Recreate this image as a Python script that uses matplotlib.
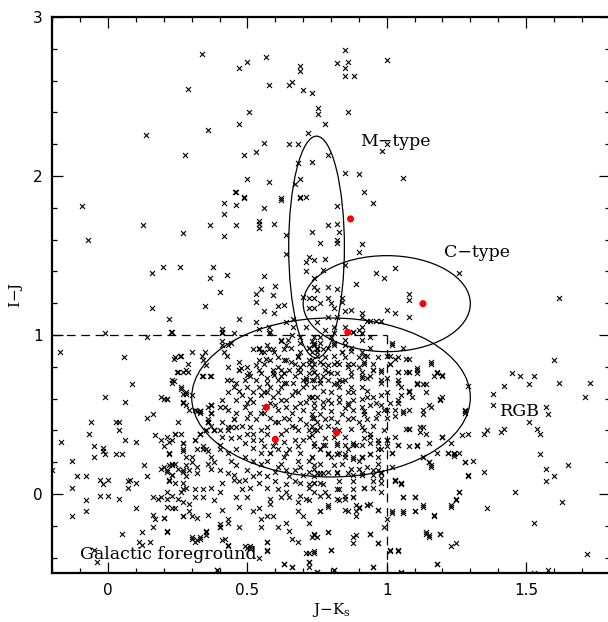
import matplotlib
matplotlib.use("Agg")
import matplotlib.pyplot as plt
from matplotlib.patches import Ellipse
from matplotlib.ticker import MultipleLocator, FixedLocator, FuncFormatter

# (J-Ks, I-J) colours of the field stars, grouped by region of the diagram
upper_branch = [
    (0.338, 2.77), (0.468, 2.68), (0.50, 2.72), (0.568, 2.75), (0.69, 2.69), (0.69, 2.66),
    (0.288, 2.55), (0.578, 2.57), (0.65, 2.57), (0.66, 2.59), (0.70, 2.54), (0.507, 2.40),
    (0.468, 2.33), (0.36, 2.29), (0.137, 2.26), (0.716, 2.27), (0.558, 2.21), (0.65, 2.20),
    (0.68, 2.20), (0.529, 2.15), (0.277, 2.13), (0.489, 2.13), (0.68, 2.08), (0.50, 1.98),
    (0.578, 1.96), (0.669, 1.95), (0.69, 1.98), (0.457, 1.90), (0.489, 1.87), (0.619, 1.86),
    (0.69, 1.87), (0.709, 1.87), (0.849, 2.79), (0.82, 2.71), (0.86, 2.72), (0.849, 2.68),
    (0.849, 2.63), (0.881, 2.63), (1.0, 2.73), (0.73, 2.52), (0.752, 2.43), (0.752, 2.39),
    (0.86, 2.40), (0.78, 2.33), (0.982, 2.16), (1.0, 2.20), (0.79, 2.13), (0.73, 2.09),
    (0.849, 2.02), (0.90, 2.01), (1.06, 1.99), (0.92, 1.90), (-0.094, 1.81), (0.417, 1.83),
    (0.46, 1.90), (0.46, 1.82), (0.489, 1.86), (0.417, 1.76), (0.558, 1.80), (0.619, 1.85),
    (0.54, 1.72), (0.687, 1.86), (0.82, 1.81), (0.95, 1.83),
]

mid_branch = [
    (-0.072, 1.60), (0.126, 1.69), (0.267, 1.64), (0.198, 1.43), (0.259, 1.43), (0.158, 1.39),
    (0.158, 1.17), (0.219, 1.10), (0.227, 1.02), (-0.011, 1.01), (0.367, 1.69), (0.46, 1.69),
    (0.417, 1.62), (0.54, 1.70), (0.54, 1.67), (0.597, 1.70), (0.64, 1.63), (0.64, 1.51),
    (0.378, 1.43), (0.367, 1.36), (0.428, 1.38), (0.558, 1.37), (0.40, 1.27), (0.349, 1.18),
    (0.529, 1.26), (0.55, 1.29), (0.60, 1.31), (0.59, 1.25), (0.529, 1.21), (0.558, 1.15),
    (0.597, 1.14), (0.608, 1.18), (0.63, 1.19), (0.468, 1.10), (0.529, 1.08), (0.54, 1.04),
    (0.578, 1.05), (0.64, 1.08), (0.665, 1.10), (0.41, 1.04), (0.41, 1.02), (0.45, 1.01),
    (0.576, 1.01), (0.709, 1.46), (0.709, 1.40), (0.70, 1.24), (0.665, 1.05), (0.79, 1.69),
    (0.82, 1.70), (0.83, 1.65), (0.73, 1.65), (0.76, 1.58), (0.82, 1.60), (0.82, 1.58),
    (0.91, 1.57), (0.90, 1.52), (0.72, 1.49), (0.74, 1.47), (0.78, 1.48), (0.849, 1.44),
    (0.96, 1.39), (0.99, 1.36), (1.03, 1.42), (1.26, 1.39), (0.77, 1.41), (0.74, 1.36),
    (0.74, 1.30), (0.75, 1.28), (0.79, 1.30), (0.82, 1.29), (0.89, 1.32), (0.72, 1.23),
    (0.74, 1.23), (0.76, 1.20), (0.79, 1.23), (0.80, 1.20), (0.84, 1.23), (0.84, 1.21),
    (0.72, 1.17), (0.74, 1.17), (0.81, 1.17), (0.87, 1.16), (0.849, 1.15), (0.91, 1.14),
    (1.0, 1.16), (1.03, 1.14), (1.08, 1.26), (1.08, 1.22), (1.08, 1.11), (1.62, 1.23),
    (0.79, 1.11), (0.82, 1.11), (0.91, 1.11), (0.93, 1.09), (0.94, 1.09), (0.96, 1.09),
    (0.98, 1.09), (0.75, 1.08), (0.71, 1.05), (0.81, 1.05), (0.85, 1.05), (0.91, 1.05),
    (0.78, 1.03), (0.81, 1.01), (0.90, 1.03), (0.88, 1.02), (0.91, 1.01), (0.58, 1.02),
    (0.66, 1.0), (0.41, 1.01), (0.23, 1.02), (0.14, 0.99),
]

left_field = [
    (-0.173, 0.89), (0.058, 0.86), (0.086, 0.69), (-0.01, 0.61), (0.06, 0.58), (0.19, 0.61),
    (0.21, 0.60), (0.27, 0.63), (-0.06, 0.45), (-0.07, 0.38), (-0.17, 0.33), (0.03, 0.45),
    (0.04, 0.40), (0.04, 0.45), (0.06, 0.34), (0.10, 0.33), (0.14, 0.48), (0.16, 0.50),
    (-0.05, 0.30), (-0.02, 0.29), (-0.02, 0.27), (-0.05, 0.23), (-0.01, 0.25), (-0.13, 0.21),
    (-0.11, 0.11), (-0.08, 0.11), (-0.13, 0.04), (-0.20, 0.15), (-0.03, 0.09), (-0.02, 0.06),
    (0.0, 0.09), (-0.03, -0.01), (0.0, -0.01), (0.04, -0.03), (-0.08, -0.04), (-0.08, -0.11),
    (-0.13, -0.14), (0.03, 0.25), (0.05, 0.25), (0.07, 0.08), (0.07, 0.04), (0.08, 0.09),
    (0.10, 0.07), (0.14, 0.11), (0.13, 0.18), (0.10, -0.09), (0.16, -0.02), (0.18, -0.03),
    (0.19, -0.02), (0.16, -0.13), (0.17, -0.16), (0.20, -0.15), (0.21, -0.24), (0.16, -0.21),
    (0.12, -0.24), (0.05, -0.25), (0.11, -0.30), (0.12, -0.32), (0.15, -0.30), (-0.04, -0.43),
    (-0.05, -0.35), (0.17, 0.37), (0.19, 0.34), (0.22, 0.33), (0.24, 0.38), (0.26, 0.38),
    (0.27, 0.32), (0.27, 0.27), (0.22, 0.25), (0.25, 0.45), (0.27, 0.57), (0.28, 0.63),
    (0.30, 0.62), (0.23, 0.70), (0.26, 0.66), (0.19, 0.16), (0.21, 0.14), (0.23, 0.18),
    (0.23, 0.19), (0.22, 0.09), (0.23, 0.12), (0.25, 0.16), (0.27, 0.15), (0.28, 0.18),
    (0.30, 0.20), (0.28, 0.11), (0.28, 0.23), (0.30, 0.23), (0.32, 0.17),
]

core_upper = [
    (0.41, 0.96), (0.41, 0.94), (0.44, 0.95), (0.417, 0.89), (0.428, 0.87), (0.349, 0.89),
    (0.338, 0.87), (0.30, 0.89), (0.259, 0.87), (0.237, 0.85), (0.288, 0.82), (0.288, 0.77),
    (0.248, 0.77), (0.27, 0.77), (0.237, 0.71), (0.338, 0.74), (0.367, 0.74), (0.428, 0.72),
    (0.468, 0.78), (0.478, 0.79), (0.50, 0.75), (0.507, 0.76), (0.529, 0.81), (0.558, 0.82),
    (0.54, 0.91), (0.55, 0.89), (0.578, 0.91), (0.568, 0.85), (0.597, 0.89), (0.619, 0.96),
    (0.647, 0.97), (0.658, 0.92), (0.63, 0.84), (0.658, 0.83), (0.68, 0.87), (0.698, 0.82),
    (0.68, 0.78), (0.619, 0.78), (0.597, 0.75), (0.63, 0.70), (0.665, 0.70), (0.709, 0.72),
    (0.69, 0.99), (0.43, 0.94), (0.52, 0.91), (0.54, 0.92), (0.57, 0.94), (0.62, 0.97),
    (0.59, 0.91), (0.63, 0.91), (0.64, 0.94), (0.69, 0.95), (0.72, 0.92), (0.74, 0.95),
    (0.75, 0.91), (0.24, 0.86), (0.26, 0.87), (0.34, 0.84), (0.35, 0.81), (0.25, 0.77),
    (0.28, 0.78), (0.23, 0.72), (0.34, 0.74), (0.37, 0.74), (0.26, 0.67), (0.28, 0.64),
    (0.20, 0.60), (0.21, 0.60), (0.27, 0.58), (0.28, 0.56), (0.29, 0.53), (0.31, 0.53),
    (0.32, 0.52), (0.36, 0.55), (0.37, 0.51), (0.36, 0.47), (0.37, 0.43), (0.33, 0.51),
    (0.36, 0.45), (0.33, 0.52), (0.37, 0.56),
]

core_centre = [
    (0.24, 0.38), (0.21, 0.36), (0.23, 0.34), (0.27, 0.32), (0.20, 0.30), (0.27, 0.28),
    (0.22, 0.26), (0.33, 0.38), (0.34, 0.30), (0.35, 0.28), (0.37, 0.23), (0.38, 0.40),
    (0.40, 0.40), (0.43, 0.40), (0.44, 0.42), (0.41, 0.45), (0.41, 0.36), (0.40, 0.31),
    (0.43, 0.26), (0.46, 0.28), (0.49, 0.32), (0.50, 0.38), (0.51, 0.42), (0.52, 0.34),
    (0.55, 0.34), (0.56, 0.30), (0.55, 0.40), (0.57, 0.42), (0.53, 0.47), (0.50, 0.48),
    (0.46, 0.51), (0.49, 0.55), (0.46, 0.59), (0.51, 0.60), (0.50, 0.57), (0.52, 0.58),
    (0.55, 0.62), (0.54, 0.67), (0.50, 0.67), (0.47, 0.65), (0.46, 0.70), (0.43, 0.64),
    (0.41, 0.59), (0.42, 0.55), (0.40, 0.55), (0.44, 0.72), (0.50, 0.80), (0.47, 0.78),
    (0.47, 0.83), (0.43, 0.80), (0.54, 0.78), (0.55, 0.76), (0.57, 0.73), (0.61, 0.72),
    (0.62, 0.74), (0.58, 0.67), (0.62, 0.67), (0.64, 0.70), (0.67, 0.74), (0.65, 0.78),
    (0.69, 0.80), (0.61, 0.80), (0.58, 0.84), (0.54, 0.84), (0.64, 0.84), (0.68, 0.86),
    (0.72, 0.84), (0.73, 0.80), (0.72, 0.76), (0.74, 0.72), (0.70, 0.67), (0.68, 0.64),
    (0.72, 0.61), (0.74, 0.57), (0.70, 0.53), (0.67, 0.55), (0.64, 0.59), (0.62, 0.59),
    (0.59, 0.61), (0.61, 0.53), (0.58, 0.48), (0.63, 0.48), (0.65, 0.47), (0.69, 0.47),
    (0.73, 0.48), (0.75, 0.45), (0.72, 0.40), (0.68, 0.40), (0.64, 0.40), (0.62, 0.38),
    (0.63, 0.33), (0.67, 0.34), (0.70, 0.34), (0.74, 0.32), (0.65, 0.28), (0.69, 0.26),
    (0.73, 0.23), (0.55, 0.26), (0.58, 0.26), (0.61, 0.28), (0.31, 0.34), (0.33, 0.38),
    (0.35, 0.40), (0.38, 0.40), (0.43, 0.42), (0.32, 0.28), (0.34, 0.28), (0.36, 0.27),
    (0.40, 0.28), (0.37, 0.51), (0.36, 0.45), (0.33, 0.52), (0.37, 0.56), (0.60, 0.45),
    (0.66, 0.62), (0.71, 0.69), (0.60, 0.56), (0.56, 0.51), (0.45, 0.47), (0.48, 0.62),
    (0.53, 0.72), (0.59, 0.78), (0.66, 0.51), (0.71, 0.58), (0.44, 0.35), (0.52, 0.29),
    (0.60, 0.33), (0.66, 0.43), (0.71, 0.44), (0.57, 0.64), (0.63, 0.76), (0.48, 0.43),
]

core_dense = [
    (0.73, 0.84), (0.76, 0.83), (0.78, 0.78), (0.74, 0.77), (0.80, 0.76), (0.73, 0.72),
    (0.76, 0.70), (0.79, 0.72), (0.85, 0.72), (0.86, 0.64), (0.88, 0.64), (0.93, 0.61),
    (0.73, 0.61), (0.77, 0.58), (0.80, 0.57), (0.83, 0.58), (0.86, 0.56), (0.91, 0.55),
    (0.94, 0.56), (0.73, 0.50), (0.76, 0.50), (0.80, 0.48), (0.84, 0.50), (0.88, 0.48),
    (0.92, 0.50), (0.97, 0.51), (0.73, 0.43), (0.76, 0.42), (0.81, 0.41), (0.83, 0.40),
    (0.87, 0.41), (0.91, 0.42), (0.95, 0.43), (0.73, 0.37), (0.81, 0.36), (0.92, 0.35),
    (0.97, 0.34), (0.76, 0.28), (0.86, 0.28), (0.98, 0.28), (0.75, 0.92), (0.81, 0.94),
    (0.87, 0.92), (0.94, 0.92), (0.97, 0.86), (0.82, 0.83), (0.90, 0.80), (0.95, 0.82),
    (0.56, 0.55), (0.58, 0.57), (0.64, 0.55), (0.69, 0.57), (0.73, 0.61), (0.67, 0.65),
    (0.70, 0.72), (0.63, 0.76), (0.59, 0.76), (0.67, 0.82), (0.73, 0.89), (0.61, 0.86),
    (0.56, 0.89), (0.51, 0.74), (0.49, 0.72), (0.45, 0.67), (0.61, 0.45), (0.67, 0.42),
    (0.74, 0.40), (0.72, 0.36), (0.68, 0.30), (0.64, 0.26), (0.59, 0.30), (0.57, 0.38),
    (0.52, 0.38), (0.47, 0.36), (0.46, 0.42), (0.51, 0.51), (0.55, 0.51), (0.61, 0.64),
    (0.56, 0.64), (0.52, 0.64), (0.57, 0.70), (0.43, 0.53), (0.45, 0.47), (0.49, 0.23),
    (0.52, 0.21), (0.58, 0.26), (0.63, 0.23), (0.68, 0.21), (0.73, 0.23), (0.61, 0.17),
    (0.65, 0.11), (0.70, 0.12), (0.57, 0.11), (0.52, 0.11), (0.44, 0.21), (0.41, 0.07),
    (0.57, 0.04), (0.61, 0.03), (0.74, 0.01), (0.47, -0.08),
]

core_right = [
    (0.74, 0.99), (0.76, 0.95), (0.74, 0.94), (0.80, 0.99), (0.85, 0.97), (0.88, 1.02),
    (0.91, 1.01), (0.94, 0.99), (1.02, 0.94), (1.06, 0.92), (0.75, 0.89), (0.78, 0.86),
    (0.84, 0.89), (0.85, 0.86), (0.90, 0.86), (0.92, 0.87), (1.01, 0.87), (1.01, 0.82),
    (1.04, 0.86), (1.08, 0.85), (0.74, 0.82), (0.79, 0.81), (0.81, 0.82), (0.86, 0.80),
    (0.88, 0.82), (0.92, 0.83), (0.95, 0.78), (0.98, 0.78), (1.04, 0.77), (1.08, 0.77),
    (1.08, 0.77), (1.11, 0.79), (1.11, 0.76), (1.16, 0.83), (1.18, 0.77), (1.20, 0.75),
    (0.75, 0.75), (0.77, 0.74), (0.82, 0.76), (0.83, 0.72), (0.87, 0.74), (0.91, 0.74),
    (0.94, 0.74), (0.98, 0.72), (1.00, 0.73), (1.04, 0.72), (1.08, 0.65), (1.11, 0.69),
    (1.14, 0.69), (1.17, 0.74), (0.74, 0.67), (0.77, 0.65), (0.81, 0.69), (0.83, 0.67),
    (0.87, 0.67), (0.91, 0.67), (0.93, 0.65), (0.95, 0.61), (0.98, 0.62), (1.00, 0.64),
    (1.05, 0.62), (1.08, 0.64), (1.04, 0.59), (0.75, 0.61), (0.79, 0.59), (0.83, 0.61),
    (0.88, 0.59), (0.91, 0.60), (0.74, 0.54), (0.77, 0.55), (0.80, 0.52), (0.85, 0.54),
    (0.88, 0.53), (0.92, 0.52), (0.98, 0.56), (0.99, 0.53), (1.0, 0.53), (1.03, 0.53),
    (1.06, 0.52), (1.13, 0.53), (1.15, 0.56), (1.19, 0.60), (1.12, 0.42), (1.08, 0.41),
    (1.0, 0.48), (0.96, 0.48), (0.93, 0.47), (0.90, 0.45), (0.86, 0.47), (0.82, 0.45),
    (0.78, 0.47), (0.74, 0.48), (0.75, 0.40), (0.78, 0.35), (0.85, 0.36), (0.88, 0.32),
    (0.92, 0.40), (0.94, 0.38), (0.99, 0.40), (1.0, 0.34), (1.04, 0.31), (0.74, 0.30),
    (0.77, 0.31), (0.82, 0.31), (0.89, 0.31), (0.83, 0.26), (0.80, 0.23), (0.91, 0.23),
    (0.94, 0.25), (1.15, 0.32), (1.20, 0.36), (1.11, 0.31), (1.28, 0.52), (0.72, 0.82),
    (0.77, 0.82), (0.83, 0.82), (0.86, 0.82), (0.92, 0.82), (1.01, 0.82), (1.16, 0.82),
    (0.69, 0.77), (0.74, 0.77), (0.79, 0.77), (0.87, 0.77), (0.91, 0.77), (0.95, 0.78),
    (0.98, 0.77), (1.04, 0.77), (1.07, 0.77), (1.11, 0.78), (1.18, 0.76), (0.71, 0.73),
    (0.76, 0.72), (0.82, 0.70), (0.91, 0.73), (0.93, 0.73), (0.98, 0.70), (1.04, 0.70),
    (1.11, 0.70), (1.20, 0.74), (1.29, 0.68), (0.72, 0.92), (0.74, 0.94), (0.79, 0.92),
    (0.85, 0.94), (0.91, 0.97), (1.02, 0.95), (0.69, 0.89), (0.75, 0.87), (0.77, 0.91),
    (0.81, 0.87), (0.84, 0.89), (0.91, 0.89), (0.93, 0.87), (1.0, 0.87), (1.03, 0.85),
    (1.07, 0.85), (0.73, 0.96), (0.76, 0.99), (0.81, 0.95), (0.87, 0.90), (0.80, 0.64),
    (0.86, 0.57), (0.79, 0.43), (0.96, 0.57), (0.84, 0.71),
]

red_tail = [
    (1.11, 0.69), (1.13, 0.69), (1.05, 0.67), (1.08, 0.65), (1.09, 0.61), (1.14, 0.64),
    (1.19, 0.59), (1.20, 0.61), (1.04, 0.57), (1.01, 0.57), (1.16, 0.55), (1.13, 0.50),
    (1.08, 0.53), (1.06, 0.51), (1.03, 0.49), (1.08, 0.41), (1.07, 0.41), (1.13, 0.42),
    (1.12, 0.39), (1.14, 0.38), (1.20, 0.36), (1.03, 0.36), (1.04, 0.31), (1.08, 0.30),
    (1.11, 0.30), (1.02, 0.17), (1.03, 0.09), (1.05, 0.07), (1.0, 0.30), (1.45, 0.76),
    (1.48, 0.74), (1.53, 0.74), (1.51, 0.69), (1.42, 0.68), (1.62, 0.70), (1.73, 0.70),
    (1.60, 0.84), (1.71, 0.61), (1.38, 0.63), (1.38, 0.56), (1.57, 0.55), (1.58, 0.50),
    (1.51, 0.45), (1.54, 0.41), (1.55, 0.38), (1.41, 0.39), (1.42, 0.41), (1.35, 0.38),
    (1.36, 0.40), (1.28, 0.53), (1.28, 0.51), (1.27, 0.37), (1.29, 0.38), (1.20, 0.36),
    (1.23, 0.32), (1.22, 0.26), (1.24, 0.26), (1.26, 0.26), (1.24, 0.24), (1.18, 0.26),
    (1.15, 0.20), (1.16, 0.18), (1.13, 0.23), (1.28, 0.20), (1.31, 0.21), (1.29, 0.11),
    (1.35, 0.14), (1.55, 0.25), (1.57, 0.16), (1.60, 0.11), (1.57, 0.08), (1.65, 0.18),
    (1.46, 0.01), (1.63, -0.05), (1.36, -0.09), (1.53, -0.18), (1.26, 0.01), (1.25, -0.03),
    (1.23, -0.07), (1.13, -0.07), (1.10, -0.11), (1.10, -0.02), (1.06, -0.02), (1.06, -0.12),
    (1.02, -0.12), (1.17, -0.14), (1.14, -0.25), (1.15, -0.26), (1.19, -0.25), (1.23, -0.33),
    (1.25, -0.31), (1.01, -0.36), (1.04, -0.36), (1.18, -0.44), (1.05, -0.50), (1.53, -0.50),
    (1.58, -0.48), (1.72, -0.38), (1.0, -0.16), (0.99, -0.21), (1.0, 0.34), (1.02, 0.26),
    (1.03, 0.08), (1.05, 0.06), (1.13, 0.23), (1.15, 0.20), (1.16, 0.17), (1.22, 0.26),
    (1.24, 0.25), (1.28, 0.20), (1.29, 0.12), (1.02, -0.11), (1.06, -0.11), (1.10, -0.11),
    (1.13, -0.08), (1.17, -0.13), (1.06, -0.02), (1.10, -0.02), (1.23, -0.08), (1.25, -0.04),
    (1.26, 0.01), (1.02, 0.26), (1.03, 0.09), (1.05, 0.07),
]

lower_field = [
    (0.97, 0.32), (0.94, 0.36), (0.94, 0.32), (0.91, 0.31), (0.88, 0.31), (0.97, 0.28),
    (0.97, 0.23), (0.94, 0.25), (0.91, 0.23), (0.88, 0.22), (0.85, 0.23), (0.82, 0.25),
    (0.79, 0.25), (0.76, 0.28), (0.78, 0.31), (0.85, 0.31), (0.82, 0.32), (0.97, 0.15),
    (0.95, 0.15), (0.98, 0.13), (0.90, 0.16), (0.91, 0.13), (0.87, 0.16), (0.82, 0.14),
    (0.79, 0.14), (0.76, 0.13), (0.72, 0.14), (0.74, 0.11), (0.92, 0.04), (0.95, 0.04),
    (0.98, 0.07), (0.98, 0.10), (0.88, 0.03), (0.85, -0.01), (0.82, 0.03), (0.82, -0.03),
    (0.85, -0.03), (0.88, -0.02), (0.79, -0.01), (0.76, -0.01), (0.71, -0.03), (0.72, 0.06),
    (0.76, 0.07), (0.89, -0.07), (0.90, -0.08), (0.93, -0.07), (0.94, -0.06), (0.97, -0.10),
    (0.89, -0.11), (0.89, -0.14), (0.85, -0.10), (0.79, -0.08), (0.76, -0.11), (0.72, -0.18),
    (0.97, -0.31), (0.94, -0.25), (0.89, -0.26), (0.88, -0.31), (0.80, -0.35), (0.79, -0.24),
    (0.74, -0.26), (0.75, -0.27), (0.71, -0.37), (0.74, -0.37), (0.72, -0.43), (0.75, -0.49),
    (0.81, -0.48), (0.95, -0.46), (0.20, 0.17), (0.22, 0.18), (0.24, 0.19), (0.21, 0.15),
    (0.22, 0.08), (0.24, 0.07), (0.21, 0.01), (0.24, -0.09), (0.20, -0.15), (0.21, -0.23),
    (0.27, 0.14), (0.27, 0.07), (0.29, 0.15), (0.32, 0.13), (0.26, 0.01), (0.27, -0.05),
    (0.29, -0.06), (0.27, -0.14), (0.30, -0.14), (0.32, -0.15), (0.31, 0.03), (0.31, -0.02),
    (0.34, 0.03), (0.34, -0.02), (0.37, 0.04), (0.38, -0.04), (0.40, 0.01), (0.41, -0.10),
    (0.43, -0.16), (0.43, -0.18), (0.40, -0.21), (0.36, -0.13), (0.35, -0.23), (0.35, -0.26),
    (0.30, -0.28), (0.32, -0.29), (0.33, -0.27), (0.41, -0.29), (0.43, -0.32), (0.47, -0.21),
    (0.36, 0.19), (0.37, 0.16), (0.40, 0.15), (0.38, 0.20), (0.43, 0.13), (0.45, 0.12),
    (0.45, 0.09), (0.47, 0.08), (0.49, 0.09), (0.48, 0.03), (0.46, -0.02), (0.50, -0.02),
    (0.51, 0.04), (0.54, 0.07), (0.54, 0.13), (0.50, 0.15), (0.46, 0.18), (0.55, 0.19),
    (0.57, 0.21), (0.60, 0.14), (0.60, 0.08), (0.58, -0.03), (0.58, -0.06), (0.62, -0.02),
    (0.64, 0.01), (0.65, -0.02), (0.68, -0.05), (0.72, -0.04), (0.69, -0.01), (0.64, 0.06),
    (0.67, 0.08), (0.69, 0.07), (0.72, 0.04), (0.74, 0.07), (0.67, 0.15), (0.69, 0.17),
    (0.64, 0.15), (0.62, 0.19), (0.72, 0.21), (0.74, 0.16), (0.52, -0.11), (0.54, -0.09),
    (0.55, -0.16), (0.55, -0.21), (0.57, -0.14), (0.59, -0.14), (0.61, -0.21), (0.64, -0.18),
    (0.65, -0.23), (0.66, -0.28), (0.68, -0.30), (0.68, -0.11), (0.70, -0.14), (0.74, -0.25),
    (0.73, -0.27), (0.57, -0.30), (0.57, -0.35), (0.50, -0.34), (0.51, -0.34), (0.54, -0.40),
    (0.63, -0.44), (0.66, -0.46), (0.72, -0.43), (0.72, -0.46), (0.72, -0.37), (0.39, -0.48),
    (0.79, 0.26), (0.82, 0.25), (0.85, 0.25), (0.88, 0.23), (0.91, 0.23), (0.74, 0.18),
    (0.76, 0.19), (0.81, 0.18), (0.84, 0.19), (0.90, 0.21), (0.93, 0.17), (0.97, 0.19),
    (0.75, 0.13), (0.77, 0.13), (0.82, 0.13), (0.86, 0.13), (0.88, 0.12), (0.91, 0.12),
    (0.95, 0.12), (0.98, 0.14), (0.74, 0.07), (0.77, 0.06), (0.83, 0.08), (0.88, 0.08),
    (0.95, 0.08), (0.92, 0.04), (0.98, 0.01), (0.78, 0.01), (0.83, 0.03), (0.88, -0.02),
    (0.83, -0.04), (0.79, -0.07), (0.76, -0.11), (0.86, -0.11), (0.90, -0.09), (0.93, -0.07),
    (0.97, -0.10), (0.79, -0.24), (0.88, -0.27), (0.94, -0.25), (0.97, -0.31), (0.80, -0.35),
    (0.74, -0.36), (0.95, -0.46), (0.75, -0.49), (0.81, -0.48), (1.01, -0.35), (1.04, -0.35),
    (1.14, -0.24), (1.15, -0.27), (1.19, -0.25), (1.18, -0.44), (1.05, -0.49), (0.30, -0.27),
    (0.31, -0.30), (0.33, -0.28), (0.35, -0.24), (0.40, -0.19), (0.40, -0.21), (0.42, -0.28),
    (0.43, -0.33), (0.49, -0.33), (0.51, -0.33), (0.39, -0.48), (0.57, -0.30), (0.57, -0.36),
    (0.63, -0.44), (0.66, -0.46), (0.31, 0.34), (0.33, 0.38), (0.35, 0.40), (0.38, 0.40),
    (0.37, 0.51), (0.36, 0.45), (0.33, 0.52), (0.37, 0.56), (0.23, 0.12), (0.28, 0.04),
    (0.27, 0.03), (0.25, -0.03), (0.23, -0.01), (0.21, -0.03), (0.21, -0.08), (0.23, -0.09),
    (0.27, -0.14), (0.29, -0.11),
]

# Period-variable stars with known spectral type (red dots)
var_jk = [0.870, 1.13, 0.86, 0.568, 0.60, 0.82]
var_ij = [1.73, 1.197, 1.017, 0.545, 0.344, 0.385]

# Selection regions: (centre J-Ks, centre I-J, full width, full height)
regions = {
    "M-type": (0.748, 1.553, 0.20, 1.395),
    "C-type": (1.0, 1.197, 0.60, 0.604),
    "RGB": (0.80, 0.607, 1.00, 1.00),
}

region_labels = [
    ("M\u2212type", 0.903, 2.19),
    ("C\u2212type", 1.205, 1.49),
    ("RGB", 1.406, 0.49),
    ("Galactic foreground", -0.10, -0.41),
]

xticks_major = [0, 0.5, 1, 1.5]
yticks_major = [0, 1, 2, 3]

plt.rcParams["mathtext.fontset"] = "dejavuserif"

fig = plt.figure(figsize=(6.08, 6.22), dpi=100)
# the right-hand frame edge falls just past the canvas border
ax = fig.add_axes([0.0862, 0.078, 0.9165, 0.8947])

stars = (upper_branch + mid_branch + left_field + core_upper + core_centre
         + core_dense + core_right + red_tail + lower_field)
jk = [p[0] for p in stars]
ij = [p[1] for p in stars]
ax.scatter(jk, ij, marker="x", s=13, c="black", linewidths=0.8, zorder=2)

for (cx, cy, w, h) in regions.values():
    ax.add_patch(Ellipse((cx, cy), w, h, fill=False, edgecolor="black",
                         linewidth=0.9, zorder=3))

# colour cuts: I-J = 1 and J-Ks = 1
ax.plot([-0.2, 1.0], [1.0, 1.0], color="black", lw=0.9, ls=(0, (7, 4.5)), zorder=3)
ax.plot([1.0, 1.0], [1.0, -0.5], color="black", lw=0.9, ls=(0, (7, 4.5)), zorder=3)

ax.scatter(var_jk, var_ij, s=26, c="red", edgecolors="none", zorder=4)

for text, tx, ty in region_labels:
    ax.text(tx, ty, text, family="DejaVu Serif", fontsize=12.5,
            ha="left", va="baseline", zorder=5)

ax.set_xlim(-0.2, 1.8)
ax.set_ylim(-0.5, 3.0)
ax.xaxis.set_major_locator(FixedLocator(xticks_major))
ax.yaxis.set_major_locator(FixedLocator(yticks_major))
ax.xaxis.set_minor_locator(MultipleLocator(0.1))
ax.yaxis.set_minor_locator(MultipleLocator(0.2))
fmt = FuncFormatter(lambda v, pos: f"{v:g}")
ax.xaxis.set_major_formatter(fmt)
ax.yaxis.set_major_formatter(fmt)

ax.tick_params(which="both", direction="in", top=True, right=True, width=0.9)
ax.tick_params(which="major", length=8, labelsize=11, pad=7)
ax.tick_params(which="minor", length=3.8)
for sp in ax.spines.values():
    sp.set_linewidth(1.6)

ax.set_xlabel(r"J$-$K$_{\rm s}$", family="DejaVu Serif", fontsize=11, labelpad=2)
ax.set_ylabel(r"I$-$J", family="DejaVu Serif", fontsize=11, labelpad=6)

fig.savefig("out.png", dpi=100)
